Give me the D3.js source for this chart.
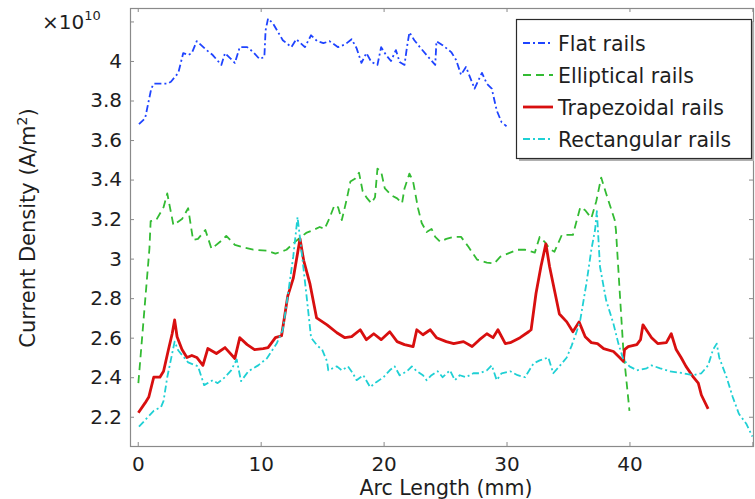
<!DOCTYPE html>
<html>
<head>
<meta charset="utf-8">
<script src="https://cdn.jsdelivr.net/npm/d3@7"></script>
<style>
  html, body { margin: 0; padding: 0; background: #fff; }
  svg { display: block; font-family: "DejaVu Sans", sans-serif; }
</style>
</head>
<body>
<svg id="chart" width="755" height="499"></svg>
<script>
// Current density (×10^10 A/m²) along the rail arc length (mm)
const flatRails = [[0.1,3.68],[0.6,3.71],[1.1,3.86],[1.3,3.885],[2.4,3.885],[2.7,3.895],[3.3,3.94],[3.7,4.04],[4.1,4.03],[4.4,4.04],[4.8,4.10],[5.6,4.055],[6.1,4.03],[6.8,3.98],[7.1,4.04],[7.9,3.99],[8.3,4.07],[8.9,4.07],[9.4,4.045],[9.9,4.01],[10.3,4.02],[10.4,4.155],[10.6,4.215],[11.0,4.19],[11.8,4.105],[12.5,4.07],[12.9,4.11],[13.6,4.07],[14.1,4.13],[14.6,4.10],[15.1,4.09],[15.6,4.10],[16.3,4.07],[16.9,4.085],[17.4,4.11],[17.8,4.065],[18.2,3.99],[18.6,4.04],[19.0,3.995],[19.5,3.98],[19.8,4.07],[20.2,4.03],[20.6,4.0],[21.0,4.055],[21.3,3.995],[21.7,3.98],[21.9,4.07],[22.1,4.145],[22.5,4.105],[22.95,4.07],[23.5,4.03],[24.2,3.98],[24.3,4.10],[24.8,4.08],[25.5,4.045],[25.9,4.005],[26.3,3.93],[26.7,3.97],[27.4,3.86],[28.0,3.94],[28.4,3.885],[28.8,3.86],[29.2,3.75],[29.6,3.69],[30.0,3.67]];

const ellipticalRails = [[0.05,2.37],[0.95,3.05],[1.05,3.19],[1.5,3.195],[2.1,3.26],[2.4,3.33],[2.9,3.17],[3.6,3.20],[4.1,3.255],[4.5,3.095],[4.9,3.10],[5.5,3.145],[6.0,3.05],[6.7,3.085],[7.2,3.115],[7.9,3.07],[8.7,3.055],[9.4,3.045],[10.5,3.04],[11.2,3.025],[12.1,3.045],[12.8,3.085],[13.7,3.13],[14.3,3.145],[14.8,3.16],[15.2,3.15],[15.6,3.205],[16.0,3.27],[16.3,3.26],[16.6,3.195],[17.0,3.30],[17.3,3.39],[17.7,3.405],[18.0,3.435],[18.3,3.34],[18.6,3.31],[19.0,3.28],[19.3,3.31],[19.5,3.455],[19.8,3.44],[20.1,3.355],[20.65,3.32],[21.1,3.305],[21.5,3.28],[21.7,3.355],[22.1,3.43],[22.4,3.39],[22.8,3.255],[23.1,3.18],[23.5,3.135],[23.9,3.15],[24.2,3.11],[24.6,3.085],[25.1,3.10],[25.7,3.11],[26.3,3.11],[26.9,3.06],[27.6,2.995],[28.4,2.98],[29.0,2.975],[29.5,3.01],[30.3,3.03],[30.9,3.045],[31.5,3.045],[32.3,3.03],[32.7,3.11],[33.1,3.085],[33.5,3.05],[33.9,3.035],[34.5,3.12],[35.4,3.12],[36.0,3.26],[36.4,3.245],[36.9,3.205],[37.3,3.29],[37.7,3.41],[38.1,3.33],[38.8,3.195],[38.9,3.145],[39.2,2.84],[39.5,2.54],[40.0,2.23]];

const trapezoidalRails = [[0.05,2.22],[0.6,2.27],[0.9,2.30],[1.3,2.40],[1.8,2.40],[2.1,2.43],[2.5,2.54],[2.8,2.62],[3.0,2.69],[3.2,2.605],[3.6,2.54],[4.0,2.50],[4.4,2.51],[4.8,2.50],[5.3,2.46],[5.7,2.545],[6.4,2.52],[7.1,2.55],[7.9,2.495],[8.3,2.60],[8.9,2.565],[9.5,2.54],[10.2,2.545],[10.6,2.55],[11.2,2.60],[11.7,2.61],[12.2,2.81],[12.65,2.90],[12.9,2.99],[13.2,3.10],[13.5,2.99],[14.0,2.875],[14.55,2.70],[15.4,2.665],[16.2,2.625],[16.85,2.60],[17.4,2.605],[18.1,2.64],[18.6,2.59],[19.2,2.62],[19.8,2.59],[20.5,2.63],[21.1,2.58],[21.7,2.565],[22.4,2.555],[22.7,2.64],[23.2,2.615],[23.8,2.64],[24.3,2.60],[25.1,2.58],[25.7,2.57],[26.5,2.58],[27.2,2.555],[27.8,2.59],[28.4,2.62],[28.9,2.60],[29.3,2.64],[29.9,2.57],[30.3,2.575],[31.1,2.60],[31.8,2.63],[32.0,2.64],[32.4,2.825],[32.8,2.96],[33.2,3.075],[33.5,2.96],[33.9,2.84],[34.3,2.72],[34.9,2.68],[35.4,2.63],[35.9,2.68],[36.4,2.605],[36.9,2.575],[37.4,2.57],[37.9,2.545],[38.7,2.53],[39.2,2.50],[39.5,2.48],[39.6,2.54],[39.9,2.555],[40.6,2.565],[40.9,2.59],[41.1,2.665],[41.8,2.60],[42.3,2.57],[43.0,2.575],[43.4,2.62],[43.8,2.54],[44.2,2.50],[44.6,2.455],[45.2,2.40],[45.6,2.37],[45.85,2.31],[46.4,2.24]];

const rectangularRails = [[0.1,2.15],[0.7,2.19],[1.3,2.23],[1.9,2.25],[2.1,2.28],[2.4,2.40],[3.0,2.58],[3.3,2.535],[4.1,2.475],[4.9,2.455],[5.4,2.36],[6.1,2.385],[6.5,2.37],[7.1,2.40],[7.6,2.435],[8.05,2.49],[8.4,2.38],[9.0,2.43],[9.8,2.46],[10.5,2.495],[11.3,2.57],[11.8,2.64],[12.2,2.81],[12.65,3.01],[13.0,3.21],[13.3,3.05],[13.7,2.83],[14.1,2.60],[14.6,2.56],[15.0,2.54],[15.4,2.48],[15.5,2.435],[16.2,2.455],[16.6,2.435],[17.1,2.455],[17.5,2.42],[17.8,2.385],[18.35,2.41],[18.9,2.35],[19.4,2.375],[20.0,2.40],[20.5,2.435],[20.9,2.455],[21.3,2.41],[21.9,2.43],[22.3,2.455],[22.7,2.43],[23.2,2.41],[23.5,2.385],[23.9,2.41],[24.4,2.43],[24.8,2.40],[25.4,2.435],[25.8,2.385],[26.2,2.41],[26.7,2.40],[27.3,2.42],[27.8,2.42],[28.4,2.435],[28.8,2.46],[29.2,2.385],[29.6,2.42],[30.3,2.43],[30.9,2.41],[31.5,2.40],[32.2,2.47],[32.7,2.485],[33.4,2.50],[33.8,2.42],[34.3,2.455],[34.9,2.50],[35.3,2.56],[35.7,2.63],[36.0,2.69],[36.5,2.875],[36.9,3.045],[37.2,3.145],[37.35,3.24],[37.6,2.96],[38.1,2.79],[38.7,2.67],[39.1,2.57],[39.5,2.49],[40.0,2.455],[40.6,2.435],[41.4,2.445],[41.8,2.46],[42.5,2.445],[43.3,2.43],[44.4,2.42],[45.2,2.41],[45.85,2.42],[46.4,2.46],[46.8,2.54],[47.1,2.57],[47.3,2.50],[47.9,2.40],[48.4,2.30],[48.9,2.215],[49.5,2.165],[50.0,2.10]];

const seriesNames = ["Flat rails", "Elliptical rails", "Trapezoidal rails", "Rectangular rails"];

const xTickValues = [0, 10, 20, 30, 40, 50];
const xTickLabels = ["0", "10", "20", "30", "40", ""];
const yTickValues = [2.2, 2.4, 2.6, 2.8, 3.0, 3.2, 3.4, 3.6, 3.8, 4.0, 4.2];
const yTickLabels = ["2.2", "2.4", "2.6", "2.8", "3", "3.2", "3.4", "3.6", "3.8", "4", ""];

// ---- layout ----
const svg = d3.select("#chart");
const plot = { left: 130, right: 753, top: 8, bottom: 446 };

const x = d3.scaleLinear().domain([-0.63, 50.05]).range([plot.left, plot.right]);
const y = d3.scaleLinear().domain([2.052, 4.268]).range([plot.bottom, plot.top]);

const styles = [
  { data: flatRails,        color: "#1f44ff", width: 1.8, dash: "7,3,2,3" },
  { data: ellipticalRails,  color: "#33bb33", width: 1.8, dash: "8,5" },
  { data: trapezoidalRails, color: "#d80f0f", width: 2.8, dash: null },
  { data: rectangularRails, color: "#1fd0d4", width: 1.8, dash: "7,3,2,3" }
];

svg.append("defs").append("clipPath").attr("id", "plotClip")
  .append("rect")
  .attr("x", plot.left).attr("y", plot.top)
  .attr("width", plot.right - plot.left).attr("height", plot.bottom - plot.top);

// ---- axes (inward ticks on all four sides) ----
const axisColor = "#8a8a8a";
const labelColor = "#1e1e1e";
const tickFont = 20;

function styleAxis(g) {
  g.select(".domain").remove();
  g.selectAll(".tick line").attr("stroke", axisColor);
  g.selectAll(".tick text").attr("fill", labelColor).style("font-size", tickFont + "px")
    .style("font-family", "DejaVu Sans");
}

svg.append("g")
  .attr("transform", `translate(0,${plot.bottom})`)
  .call(d3.axisBottom(x).tickValues(xTickValues)
    .tickFormat((d, i) => xTickLabels[i]).tickSizeInner(-4).tickSizeOuter(0).tickPadding(10.5))
  .call(styleAxis);

svg.append("g")
  .attr("transform", `translate(0,${plot.top})`)
  .call(d3.axisTop(x).tickValues(xTickValues).tickFormat("").tickSizeInner(-4).tickSizeOuter(0))
  .call(styleAxis);

svg.append("g")
  .attr("transform", `translate(${plot.left},0)`)
  .call(d3.axisLeft(y).tickValues(yTickValues)
    .tickFormat((d, i) => yTickLabels[i]).tickSizeInner(-4).tickSizeOuter(0).tickPadding(8))
  .call(styleAxis);

svg.append("g")
  .attr("transform", `translate(${plot.right},0)`)
  .call(d3.axisRight(y).tickValues(yTickValues).tickFormat("").tickSizeInner(-4).tickSizeOuter(0))
  .call(styleAxis);

// frame
svg.append("rect")
  .attr("x", plot.left + 0.5).attr("y", plot.top + 0.5)
  .attr("width", plot.right - plot.left).attr("height", plot.bottom - plot.top)
  .attr("fill", "none").attr("stroke", axisColor).attr("stroke-width", 1.2);

// ---- series ----
const line = d3.line().x(d => x(d[0])).y(d => y(d[1]));

const lines = svg.append("g").attr("clip-path", "url(#plotClip)");
styles.forEach(s => {
  lines.append("path")
    .datum(s.data)
    .attr("d", line)
    .attr("fill", "none")
    .attr("stroke", s.color)
    .attr("stroke-width", s.width)
    .attr("stroke-linejoin", "round")
    .attr("stroke-dasharray", s.dash);
});

// ---- axis titles ----
svg.append("text")
  .attr("x", 446).attr("y", 494.5)
  .attr("text-anchor", "middle")
  .attr("fill", labelColor)
  .style("font-size", "20.5px")
  .text("Arc Length (mm)");

const yTitle = svg.append("text")
  .attr("transform", "translate(35,228) rotate(-90)")
  .attr("text-anchor", "middle")
  .attr("fill", labelColor)
  .style("font-size", "21px");
yTitle.append("tspan").text("Current Density (A/m");
yTitle.append("tspan").attr("dy", -8).style("font-size", "14px").text("2");
yTitle.append("tspan").attr("dy", 8).text(")");

// exponent of the y values
const expo = svg.append("text")
  .attr("x", 42).attr("y", 29)
  .attr("fill", labelColor)
  .style("font-size", "20px");
expo.append("tspan").text("×10");
expo.append("tspan").attr("dy", -9).style("font-size", "13px").text("10");

// ---- legend ----
const lg = { x: 516, y: 19, w: 235, h: 139 };
const legend = svg.append("g");
legend.append("rect")
  .attr("x", lg.x + 3).attr("y", lg.y + 3).attr("width", lg.w).attr("height", lg.h)
  .attr("fill", "#b0b0b0");
legend.append("rect")
  .attr("x", lg.x + 0.5).attr("y", lg.y + 0.5).attr("width", lg.w).attr("height", lg.h)
  .attr("fill", "#fff").attr("stroke", "#2a2a2a").attr("stroke-width", 1.2);

styles.forEach((s, i) => {
  const rowY = 43 + i * 32;
  legend.append("line")
    .attr("x1", lg.x + 7).attr("x2", lg.x + 37)
    .attr("y1", rowY).attr("y2", rowY)
    .attr("stroke", s.color).attr("stroke-width", s.width)
    .attr("stroke-dasharray", s.dash);
  legend.append("text")
    .attr("x", lg.x + 42).attr("y", rowY + 8)
    .attr("fill", labelColor)
    .style("font-size", "20.5px")
    .text(seriesNames[i]);
});
</script>
</body>
</html>
